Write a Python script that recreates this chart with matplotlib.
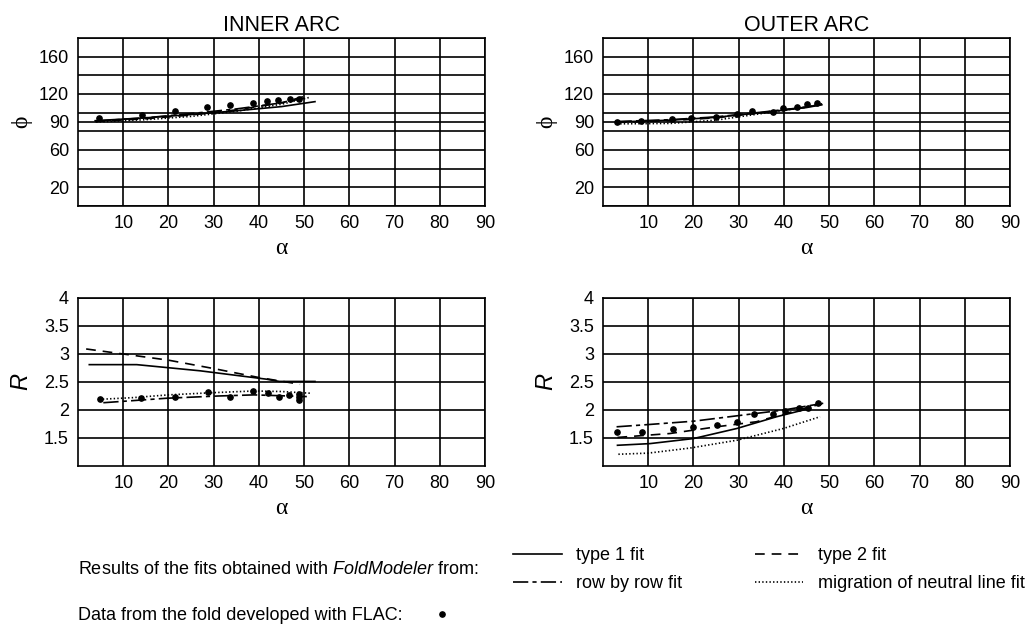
import matplotlib

matplotlib.use("Agg")
import matplotlib.pyplot as plt
from matplotlib.lines import Line2D

plt.rcParams["font.family"] = ["Liberation Sans", "DejaVu Sans"]
plt.rcParams["lines.scale_dashes"] = False
plt.rcParams["mathtext.fontset"] = "custom"
plt.rcParams["mathtext.it"] = "Liberation Sans:italic"
plt.rcParams["mathtext.rm"] = "Liberation Sans"

SERIF = ["Liberation Serif", "DejaVu Serif"]

# ---- axis ticks ----
alpha_ticks = [10, 20, 30, 40, 50, 60, 70, 80, 90]
phi_ticks = [20, 60, 90, 120, 160]
phi_grid = [0, 20, 40, 60, 80, 90, 100, 120, 140, 160, 180]
r_ticks = [1.5, 2, 2.5, 3, 3.5, 4]

# ---- inner arc, phi ----
in_phi_flac_a = [4.7, 14.1, 21.5, 28.6, 33.6, 38.8, 41.7, 44.3, 46.8, 48.8]
in_phi_flac = [94.0, 98.0, 101.5, 106.0, 108.0, 110.5, 112.5, 113.6, 115.0, 114.7]
in_phi_t1_a = [3.8, 15, 25, 35, 45, 52.4]
in_phi_t1 = [91.4, 94.5, 98.0, 102.0, 106.5, 111.8]
in_phi_t2_a = [3.8, 15, 25, 35, 45, 50.6]
in_phi_t2 = [90.5, 93.5, 97.5, 103.0, 110.5, 118.2]
in_phi_row_a = [4.0, 15, 25, 35, 45, 50.0]
in_phi_row = [91.0, 94.5, 99.0, 104.0, 110.5, 115.5]
in_phi_mig_a = [4.0, 15, 25, 35, 45, 51.3]
in_phi_mig = [90.0, 92.5, 96.0, 101.5, 109.0, 116.5]

# ---- outer arc, phi ----
out_phi_flac_a = [3.1, 8.5, 15.3, 19.5, 24.9, 29.6, 33.0, 37.7, 39.9, 43.0, 45.1, 47.3]
out_phi_flac = [90.0, 91.4, 93.2, 94.0, 95.7, 98.3, 101.8, 101.0, 104.7, 106.4, 109.3, 110.7]
out_phi_t1_a = [3.0, 15, 25, 35, 45, 48.4]
out_phi_t1 = [90.0, 92.0, 95.0, 100.0, 105.5, 108.5]
out_phi_t2_a = [3.0, 15, 25, 35, 45, 48.4]
out_phi_t2 = [89.5, 91.5, 94.5, 100.0, 106.0, 109.0]
out_phi_row_a = [3.0, 15, 25, 35, 45, 48.4]
out_phi_row = [90.5, 92.5, 95.5, 100.5, 106.0, 109.0]
out_phi_mig_a = [3.0, 15, 25, 35, 45, 48.4]
out_phi_mig = [88.0, 88.5, 92.0, 99.0, 106.0, 109.5]

# ---- inner arc, R ----
in_r_flac_a = [4.8, 14.0, 21.4, 28.7, 33.6, 38.8, 42.0, 44.5, 46.7, 48.8, 48.8, 48.8]
in_r_flac = [2.19, 2.21, 2.24, 2.32, 2.24, 2.34, 2.30, 2.24, 2.27, 2.29, 2.23, 2.18]
in_r_t1_a = [2.5, 13, 27, 41.7, 44.5, 52.4]
in_r_t1 = [2.81, 2.81, 2.70, 2.55, 2.51, 2.51]
in_r_t2_a = [1.8, 10, 20, 30, 40, 49.1]
in_r_t2 = [3.09, 3.00, 2.89, 2.74, 2.58, 2.46]
in_r_row_a = [5.6, 19.6, 31.0, 38.9, 50.6]
in_r_row = [2.13, 2.21, 2.25, 2.27, 2.24]
in_r_mig_a = [4.7, 12, 20, 30, 39, 45, 51.3]
in_r_mig = [2.19, 2.22, 2.27, 2.31, 2.34, 2.33, 2.30]

# ---- outer arc, R ----
out_r_flac_a = [3.2, 8.7, 15.4, 19.8, 25.1, 29.6, 33.3, 37.7, 40.2, 43.4, 45.4, 47.5]
out_r_flac = [1.61, 1.61, 1.66, 1.69, 1.74, 1.78, 1.92, 1.92, 1.98, 2.03, 2.03, 2.12]
out_r_t1_a = [3.2, 10.4, 20.0, 29.6, 38.4, 45.8]
out_r_t1 = [1.37, 1.40, 1.49, 1.67, 1.88, 2.03]
out_r_t2_a = [3.2, 14.8, 25.1, 33.9, 43.6, 48.4]
out_r_t2 = [1.51, 1.58, 1.70, 1.79, 2.01, 2.11]
out_r_row_a = [3.0, 10, 20, 30, 40, 48.7]
out_r_row = [1.70, 1.74, 1.80, 1.90, 2.00, 2.12]
out_r_mig_a = [3.4, 10, 19.2, 29.6, 39.9, 48.0]
out_r_mig = [1.21, 1.23, 1.32, 1.46, 1.67, 1.88]

LW = 1.2
FIT_STYLES = {
    "t1": dict(ls="-", label="type 1 fit"),
    "t2": dict(ls=(0, (7, 5)), label="type 2 fit"),
    "row": dict(ls=(0, (11, 3, 3, 3)), label="row by row fit"),
    "mig": dict(ls=(0, (1, 1.6)), label="migration of neutral line fit"),
}


def setup(ax, kind):
    ax.set_xlim(0, 90)
    ax.set_xticks(alpha_ticks)
    if kind == "phi":
        ax.set_ylim(0, 180)
        ax.set_yticks(phi_ticks)
        ax.set_yticks(phi_grid, minor=True)
        ax.set_ylabel("\u03d5", family=SERIF, fontsize=17)
        ax.yaxis.set_label_coords(-0.113, 0.5)
    else:
        ax.set_ylim(1, 4)
        ax.set_yticks(r_ticks)
        ax.set_yticklabels([f"{v:g}" for v in r_ticks])
        ax.set_ylabel("R", style="italic", fontsize=17)
        ax.yaxis.set_label_coords(-0.113, 0.5)
    ax.set_xlabel("\u03b1", family=SERIF, fontsize=17)
    ax.xaxis.set_label_coords(0.5, -0.19)
    ax.grid(True, which="both", color="black", lw=LW)
    ax.set_axisbelow(True)
    ax.tick_params(which="both", length=0, labelsize=13, pad=6.5)
    for s in ax.spines.values():
        s.set_linewidth(LW)


def draw(ax, fits, flac_a, flac):
    for key, (a, v) in fits.items():
        ax.plot(a, v, color="black", lw=LW, **FIT_STYLES[key])
    ax.plot(flac_a, flac, "o", color="black", ms=3.8, ls="none")


fig = plt.figure(figsize=(10.26, 6.33), dpi=100)
W, H = 1026, 633
ax_w, ax_h = 407 / W, 168 / H
ax_tl = fig.add_axes([78 / W, 1 - 206 / H, ax_w, ax_h])
ax_tr = fig.add_axes([603 / W, 1 - 206 / H, ax_w, ax_h])
ax_bl = fig.add_axes([78 / W, 1 - 466 / H, ax_w, ax_h])
ax_br = fig.add_axes([603 / W, 1 - 466 / H, ax_w, ax_h])

draw(ax_tl, {"t1": (in_phi_t1_a, in_phi_t1), "t2": (in_phi_t2_a, in_phi_t2),
             "row": (in_phi_row_a, in_phi_row), "mig": (in_phi_mig_a, in_phi_mig)},
     in_phi_flac_a, in_phi_flac)
draw(ax_tr, {"t1": (out_phi_t1_a, out_phi_t1), "t2": (out_phi_t2_a, out_phi_t2),
             "row": (out_phi_row_a, out_phi_row), "mig": (out_phi_mig_a, out_phi_mig)},
     out_phi_flac_a, out_phi_flac)
draw(ax_bl, {"t1": (in_r_t1_a, in_r_t1), "t2": (in_r_t2_a, in_r_t2),
             "row": (in_r_row_a, in_r_row), "mig": (in_r_mig_a, in_r_mig)},
     in_r_flac_a, in_r_flac)
draw(ax_br, {"t1": (out_r_t1_a, out_r_t1), "t2": (out_r_t2_a, out_r_t2),
             "row": (out_r_row_a, out_r_row), "mig": (out_r_mig_a, out_r_mig)},
     out_r_flac_a, out_r_flac)

for ax in (ax_tl, ax_tr):
    setup(ax, "phi")
for ax in (ax_bl, ax_br):
    setup(ax, "R")
ax_tl.set_title("INNER ARC", fontsize=15.5, pad=5)
ax_tr.set_title("OUTER ARC", fontsize=15.5, pad=5)

# legend block under the panels
h, l = ax_tl.get_legend_handles_labels()
order = [0, 2, 1, 3]
fig.legend([h[i] for i in order], [l[i] for i in order], ncol=2,
           loc="upper left", bbox_to_anchor=(513 / W, 1 - 547 / H),
           frameon=False, fontsize=13, handlelength=2.7, handletextpad=0.8,
           columnspacing=4.0, labelspacing=0.62, borderpad=0, borderaxespad=0)
fig.text(78 / W, 1 - 574 / H,
         "Results of the fits obtained with $\\mathit{FoldModeler}$ from:",
         fontsize=13, va="baseline")
dot = Line2D([], [], marker="o", ls="none", color="black", ms=3.8)
fig.legend([dot], ["Data from the fold developed with FLAC:"], markerfirst=False,
           loc="upper left", bbox_to_anchor=(78 / W, 1 - 607 / H), frameon=False,
           fontsize=13, handlelength=1.0, handletextpad=1.7,
           borderpad=0, borderaxespad=0)

fig.savefig("out.png", dpi=100)
plt.close(fig)
